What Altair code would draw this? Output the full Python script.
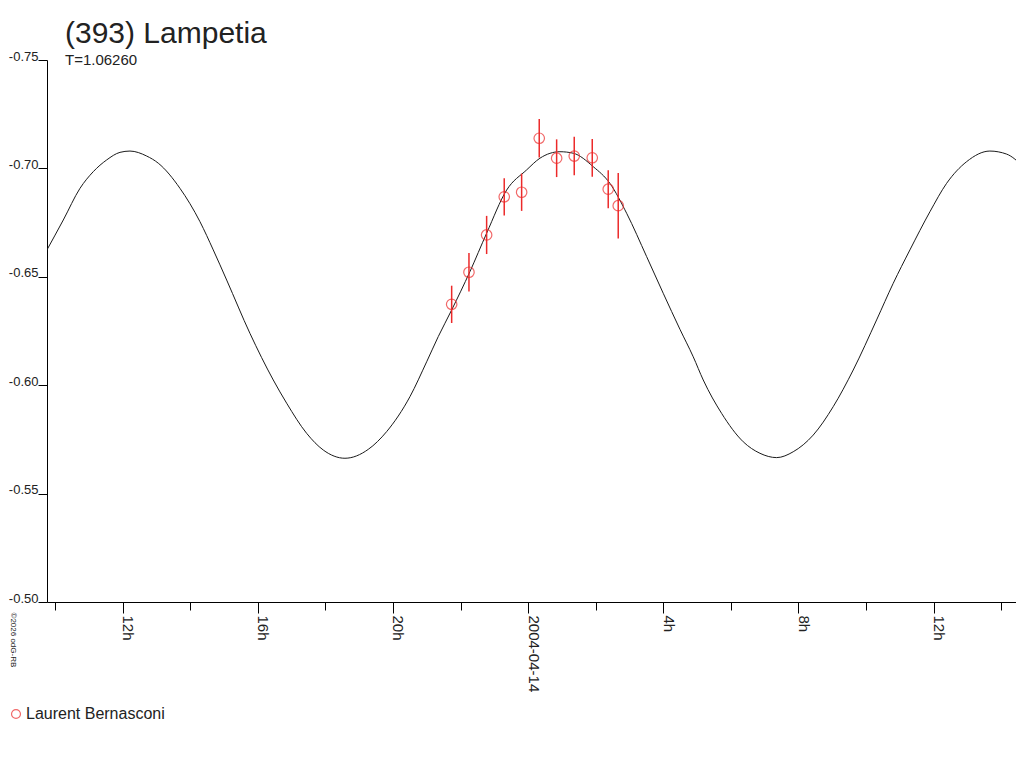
import altair as alt
import pandas as pd

# ---- data (hours since 2004-04-13 00:00 UT, magnitude) ----
curve_hours = [9.730, 10.242, 10.736, 11.130, 11.526, 11.920, 12.216, 12.710, 13.054,
               13.696, 14.288, 14.681, 15.078, 15.767, 16.457, 16.853, 17.445, 17.937,
               18.579, 19.268, 19.813, 20.502, 20.997, 21.340, 21.737, 22.278, 22.772,
               23.364, 23.956, 24.350, 24.942, 25.335, 25.927, 26.421, 26.916, 27.508,
               27.999, 28.493, 28.887, 29.183, 29.727, 30.367, 30.861, 31.355, 31.846,
               32.438, 33.030, 33.622, 34.314, 34.806, 35.300, 35.892, 36.386, 36.978,
               37.667, 38.162, 38.653]
curve_mag = [-0.6616, -0.6762, -0.6908, -0.6985, -0.7039, -0.7074, -0.7080, -0.7057, -0.7024,
             -0.6908, -0.6754, -0.6624, -0.6485, -0.6239, -0.6024, -0.5917, -0.5778, -0.5701,
             -0.5663, -0.5704, -0.5786, -0.5947, -0.6108, -0.6224, -0.6347, -0.6524, -0.6701,
             -0.6900, -0.6993, -0.7047, -0.7077, -0.7070, -0.7008, -0.6931, -0.6793, -0.6593,
             -0.6424, -0.6258, -0.6131, -0.6024, -0.5870, -0.5739, -0.5686, -0.5666, -0.5693,
             -0.5770, -0.5901, -0.6070, -0.6301, -0.6470, -0.6624, -0.6800, -0.6931, -0.7031,
             -0.7080, -0.7066, -0.7008]

obs_hours = [21.737, 22.249, 22.772, 23.293, 23.808, 24.329, 24.844, 25.365, 25.898, 26.371, 26.667]
obs_mag = [-0.6373, -0.6521, -0.6693, -0.6869, -0.6890, -0.7139, -0.7047, -0.7057, -0.7049, -0.6904, -0.6828]
obs_err = [0.0086, 0.0089, 0.0088, 0.0086, 0.0086, 0.0089, 0.0087, 0.0089, 0.0087, 0.0088, 0.0151]
observer = "Laurent Bernasconi"

x_ticks = list(range(10, 39))
x_label_hours = [12, 16, 20, 24, 28, 32, 36]
x_label_texts = ["12h", "16h", "20h", "2004-04-14", "4h", "8h", "12h"]
y_ticks = [-0.75, -0.70, -0.65, -0.60, -0.55, -0.50]
y_tick_labels = ["-0.75", "-0.70", "-0.65", "-0.60", "-0.55", "-0.50"]

x_domain = [9.76, 38.44]
y_domain = [-0.75, -0.50]

title_text = "(393) Lampetia"
subtitle_text = "T=1.06260"
credit_text = "\u00a92026 odG-RB"

RED = "#ec2a2a"
INK = "#222222"
FONT = "Liberation Sans"

# ---- tables ----
curve_df = pd.DataFrame({"h": curve_hours, "mag": curve_mag})
obs_df = pd.DataFrame({
    "h": obs_hours,
    "mag": obs_mag,
    "lo": [m - e for m, e in zip(obs_mag, obs_err)],
    "hi": [m + e for m, e in zip(obs_mag, obs_err)],
    "observer": [observer] * len(obs_hours),
})

x_expr = " : ".join(f"datum.value == {h} ? '{t}'" for h, t in zip(x_label_hours, x_label_texts)) + " : ''"
y_expr = " : ".join(f"abs(datum.value - ({v})) < 1e-6 ? '{t}'" for v, t in zip(y_ticks, y_tick_labels)) + " : ''"

xscale = alt.Scale(domain=x_domain, nice=False, zero=False)
yscale = alt.Scale(domain=y_domain, reverse=True, nice=False, zero=False)

x_axis = alt.Axis(
    values=x_ticks, labelExpr=x_expr, labelAngle=90, labelAlign="left",
    labelBaseline="alphabetic", labelPadding=2,
    tickSize={"condition": {"test": "datum.value % 4 == 0", "value": 11}, "value": 8},
    domainColor="#000000", tickColor="#000000", domainWidth=1, tickWidth=1,
    labelColor=INK, labelFont=FONT, labelFontSize=15, labelOverlap=False, labelFlush=False,
    grid=False, title=credit_text, titleAngle=90, titleFontSize=8, titleFont=FONT,
    titleFontWeight="normal", titleColor=INK, titleX=-39, titleY=10,
    titleAlign="left", titleBaseline="bottom",
)
y_axis = alt.Axis(
    values=y_ticks, labelExpr=y_expr, tickSize=9, labelPadding=0,
    labelBaseline="alphabetic", labelColor=INK, labelFont=FONT, labelFontSize=13,
    domainColor="#000000", tickColor="#000000", domainWidth=1, tickWidth=1,
    grid=False, title=None, labelFlush=False,
)

curve = alt.Chart(curve_df).mark_line(
    color="#1a1a1a", strokeWidth=1, interpolate="monotone", clip=True
).encode(
    x=alt.X("h:Q", scale=xscale, axis=x_axis),
    y=alt.Y("mag:Q", scale=yscale, axis=y_axis),
)

bars = alt.Chart(obs_df).mark_rule(color=RED, strokeWidth=1.5).encode(
    x="h:Q", y="lo:Q", y2="hi:Q"
)

points = alt.Chart(obs_df).mark_point(
    shape="circle", filled=False, size=110, strokeWidth=1.2
).encode(
    x="h:Q", y="mag:Q",
    color=alt.Color("observer:N", scale=alt.Scale(range=[RED]), legend=alt.Legend(
        title=None, orient="none", legendX=-39, legendY=646, padding=0,
        labelFont=FONT, labelFontSize=16, labelColor=INK, symbolSize=80,
        symbolStrokeWidth=1.2, symbolType="circle", labelOffset=2,
    )),
)

chart = alt.layer(curve, bars, points).properties(
    width=969, height=542,
    padding={"left": 39, "top": 52, "right": 0, "bottom": 130},
    autosize="none",
    title=alt.TitleParams(
        text=title_text, subtitle=subtitle_text, anchor="start", frame="group",
        dx=18, dy=18,
        font=FONT, fontSize=30, fontWeight="normal", color=INK,
        subtitleFont=FONT, subtitleFontSize=15, subtitleColor=INK,
        subtitlePadding=4, offset=0,
    ),
).configure_view(stroke=None)

chart.save("out.html", embed_options={"renderer": "svg", "actions": False})
